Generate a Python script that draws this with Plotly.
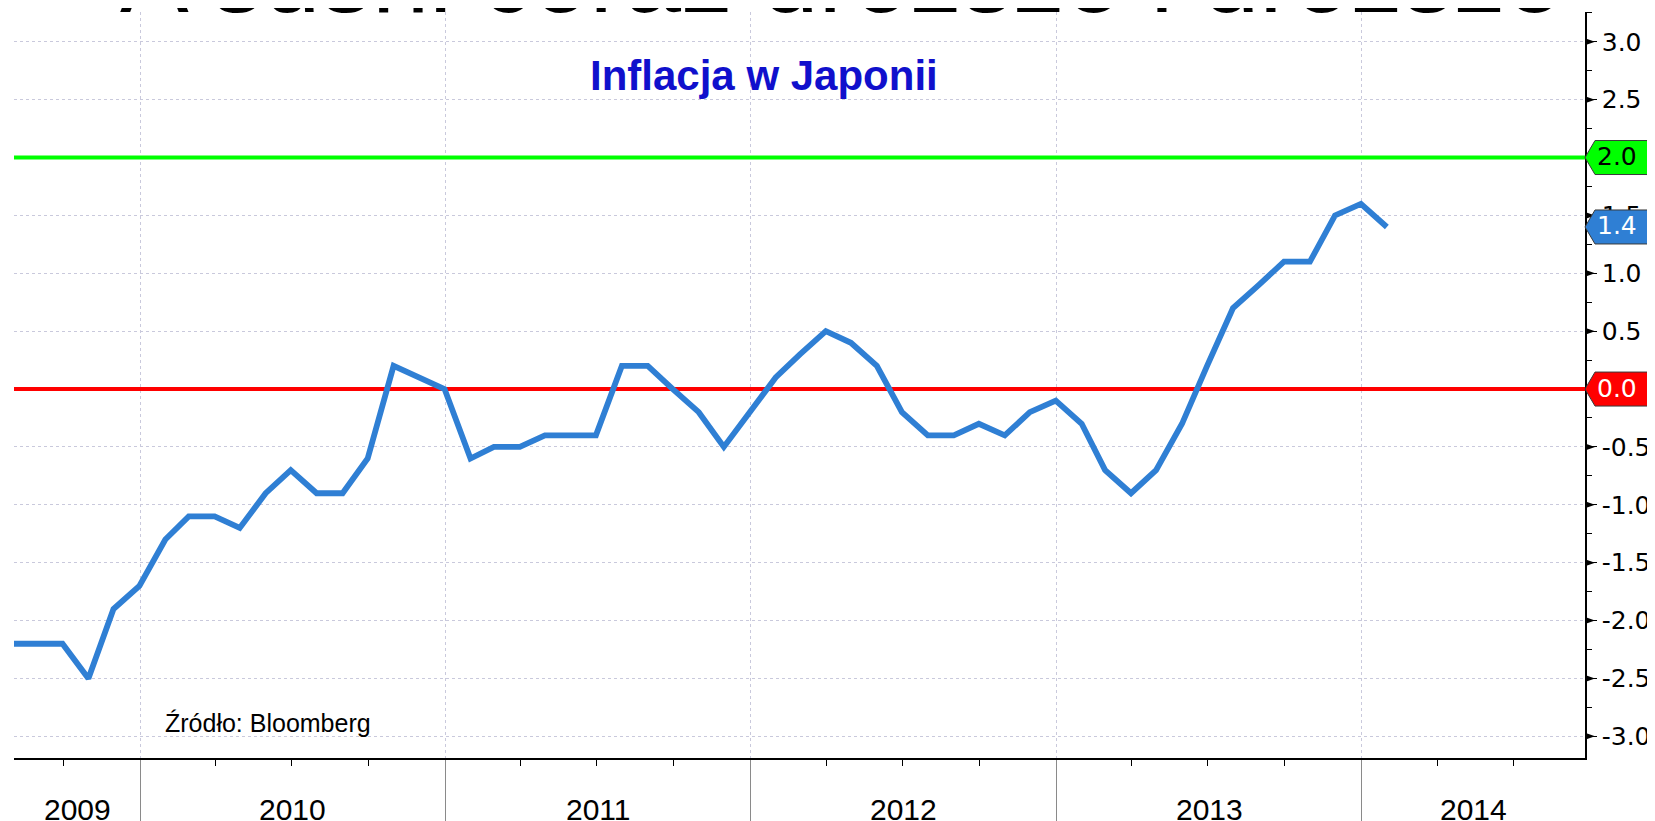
import pandas as pd
import plotly.graph_objects as go

# ---------------- data ----------------
start_month = "2009-07-31"          # first observation (month-end)
cpi = [
    -2.2, -2.2, -2.2, -2.5, -1.9, -1.7,                                   # 2009 Jul-Dec
    -1.3, -1.1, -1.1, -1.2, -0.9, -0.7, -0.9, -0.9, -0.6, 0.2, 0.1, 0.0,  # 2010
    -0.6, -0.5, -0.5, -0.4, -0.4, -0.4, 0.2, 0.2, 0.0, -0.2, -0.5, -0.2,  # 2011
    0.1, 0.3, 0.5, 0.4, 0.2, -0.2, -0.4, -0.4, -0.3, -0.4, -0.2, -0.1,    # 2012
    -0.3, -0.7, -0.9, -0.7, -0.3, 0.2, 0.7, 0.9, 1.1, 1.1, 1.5, 1.6,      # 2013
    1.4,                                                                  # 2014 Jan
]
dates = pd.date_range(start_month, periods=len(cpi), freq="ME")

years = [2009, 2010, 2011, 2012, 2013, 2014]
x_range = ["2009-08-03", "2014-09-25"]
y_range = [-3.187, 3.257]
y_ticks = [-3.0, -2.5, -2.0, -1.5, -1.0, -0.5, 0.0, 0.5, 1.0, 1.5, 2.0, 2.5, 3.0]
y_ticktext = ["%.1f" % v for v in y_ticks]

target_level = 2.0     # BoJ target (green)
zero_level = 0.0       # zero line (red)
last_value = cpi[-1]

title_big = "A sushi coraz droższe i droższe"
title_small = "Inflacja w Japonii"
source_txt = "Źródło: Bloomberg"

LINE_BLUE = "#2f7fd4"
GREEN = "#00ff00"
RED = "#ff0000"
GRID = "#c9c9dc"
TICKFONT = "DejaVu Sans"

# the page body adds an 8px offset; margins compensate for it
MARGIN = dict(l=6, r=78, t=4, b=71, autoexpand=False)
PLOT_H = 821 - MARGIN["t"] - MARGIN["b"]
units_per_px = (y_range[1] - y_range[0]) / PLOT_H

fig = go.Figure()

# reference lines (traces so they sit above the grid, below the data)
for lvl, col in [(target_level, GREEN), (zero_level, RED)]:
    fig.add_trace(go.Scatter(x=x_range, y=[lvl, lvl], mode="lines",
                             line=dict(color=col, width=4),
                             hoverinfo="skip", showlegend=False))

fig.add_trace(go.Scatter(
    x=dates, y=cpi, mode="lines",
    line=dict(color=LINE_BLUE, width=5.8),
    hoverinfo="skip", showlegend=False,
))

year_bounds = [f"{y}-01-01" for y in years[1:]]

fig.update_layout(
    width=1655, height=821,
    margin=MARGIN,
    paper_bgcolor="white", plot_bgcolor="white",
    showlegend=False,
    xaxis=dict(
        type="date", range=x_range, automargin=False,
        showline=True, linecolor="black", linewidth=1.5,
        tickmode="array", tickvals=year_bounds,
        ticks="outside", ticklen=64, tickcolor="#8a8a8a", tickwidth=1,
        showticklabels=False,
        showgrid=True, gridcolor=GRID, griddash="dot", gridwidth=1,
        zeroline=False,
        minor=dict(tickmode="linear", tick0="2009-01-01", dtick="M3",
                   ticks="outside", ticklen=6, tickcolor="black", tickwidth=1,
                   showgrid=False),
    ),
    yaxis=dict(
        side="right", range=y_range, automargin=False,
        showline=True, linecolor="black", linewidth=1.5,
        tickmode="array", tickvals=y_ticks, ticktext=y_ticktext,
        ticks="outside", ticklen=10, tickcolor="black", tickwidth=1,
        tickfont=dict(family=TICKFONT, size=25, color="black"),
        showgrid=True, gridcolor=GRID, griddash="dot", gridwidth=1,
        zeroline=False,
        minor=dict(tickmode="linear", tick0=0, dtick=0.25,
                   ticks="outside", ticklen=5, tickcolor="black", tickwidth=1,
                   showgrid=False),
    ),
)

# triangle tick markers on the right axis
for v in y_ticks:
    fig.add_shape(type="path", xref="paper", xsizemode="pixel", xanchor=1,
                  yref="paper", ysizemode="pixel",
                  yanchor=(v - y_range[0]) / (y_range[1] - y_range[0]),
                  path="M0,3.5 L10,0 L0,-3.5 Z",
                  fillcolor="black", line=dict(width=0), layer="above")

# value tags on the right axis
half = 17 * units_per_px
tags = [(target_level, GREEN, "black"), (last_value, LINE_BLUE, "white"), (zero_level, RED, "white")]
for v, col, tcol in tags:
    fig.add_shape(type="path", xref="paper", xsizemode="pixel", xanchor=1,
                  yref="y",
                  path=f"M0,{v} L10,{v + half} L90,{v + half} L90,{v - half} L10,{v - half} Z",
                  fillcolor=col, line=dict(color="#3a3a3a", width=1), layer="above")
    fig.add_annotation(xref="paper", x=1, xanchor="left", xshift=10,
                       yref="y", y=v, yanchor="middle", yshift=1,
                       text="%.1f" % v, showarrow=False,
                       font=dict(family=TICKFONT, size=25, color=tcol))

# year labels, centred on the visible part of each year
lo, hi = pd.Timestamp(x_range[0]), pd.Timestamp(x_range[1])
for y in years:
    a = max(pd.Timestamp(f"{y}-01-01"), lo)
    b = min(pd.Timestamp(f"{y + 1}-01-01"), hi)
    mid = a + (b - a) / 2
    fig.add_annotation(x=mid, xref="x", yref="paper", y=-0.0684, yanchor="middle",
                       text=str(y), showarrow=False,
                       font=dict(family="Liberation Sans", size=30, color="black"))

# titles and source
fig.add_annotation(xref="paper", x=0.5265, yref="paper", y=0.968, yanchor="bottom",
                   text=title_big, showarrow=False,
                   font=dict(family="Liberation Sans", size=103, color="black"))
fig.add_annotation(xref="paper", x=0.4775, yref="paper", y=0.9155, yanchor="middle",
                   text="<b>" + title_small + "</b>", showarrow=False,
                   font=dict(family="Liberation Sans", size=42, color="#1010cc"))
fig.add_annotation(xref="paper", x=0.0948, xanchor="left", yref="paper", y=0.047,
                   yanchor="middle", text=source_txt, showarrow=False,
                   font=dict(family="Liberation Sans", size=25, color="black"))

fig.write_html("out.html")
